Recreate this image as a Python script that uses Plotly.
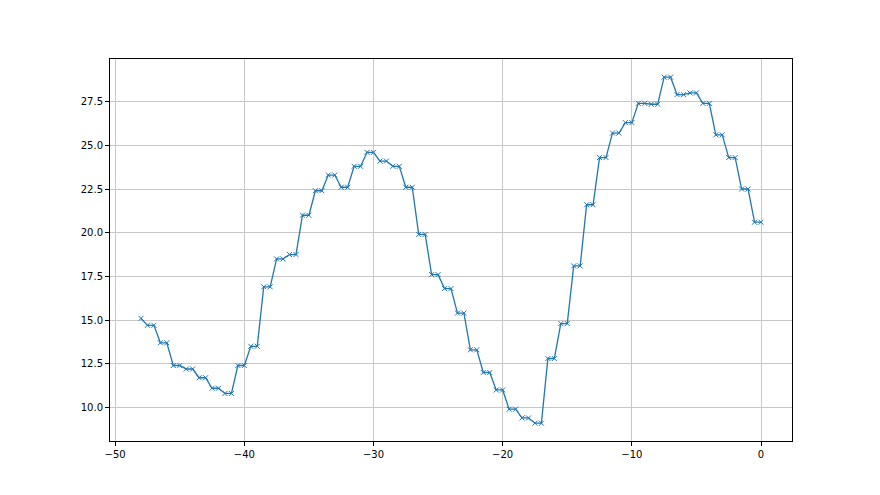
import plotly.graph_objects as go

# x positions: -48 then pairs at every half step up to 0
x_vals = [-48.0 + 0.5 * i for i in range(97)]
# one value for the first point, then one value per pair (x = k-0.5, k)
first_value = 15.1
pair_values = [14.7, 13.7, 12.4, 12.2, 11.7, 11.1, 10.8, 12.4, 13.5, 16.9,
               18.5, 18.75, 21.0, 22.4, 23.3, 22.6, 23.8, 24.6, 24.1, 23.8,
               22.6, 19.9, 17.6, 16.8, 15.4, 13.3, 12.0, 11.0, 9.9, 9.4,
               9.1, 12.8, 14.8, 18.1, 21.6, 24.3, 25.7, 26.3, 27.4, 27.35,
               28.9, 27.9, 28.0, 27.4, 25.6, 24.3, 22.5, 20.6]
y_vals = [first_value]
for v in pair_values:
    y_vals += [v, v]

x_ticks = [-50, -40, -30, -20, -10, 0]
y_ticks = [10.0, 12.5, 15.0, 17.5, 20.0, 22.5, 25.0, 27.5]

fig = go.Figure()
fig.add_trace(go.Scatter(
    x=x_vals, y=y_vals, mode="lines+markers",
    line=dict(color="#1f77b4", width=1.3),
    marker=dict(symbol="x-thin", size=5, line=dict(color="#1f77b4", width=1)),
    showlegend=False,
))

axis_common = dict(
    showline=True, linecolor="black", linewidth=1, mirror=True,
    showgrid=True, gridcolor="#c8c8c8", gridwidth=1,
    ticks="outside", ticklen=4, tickcolor="black", tickwidth=1,
    zeroline=False,
    tickfont=dict(family="DejaVu Sans", size=10, color="black"),
)
fig.update_xaxes(range=[-50.4, 2.4], tickvals=x_ticks,
                 ticktext=["\u221250", "\u221240", "\u221230", "\u221220", "\u221210", "0"],
                 **axis_common)
fig.update_yaxes(range=[8.08, 29.94], tickvals=y_ticks,
                 ticktext=[f"{v:.1f}" for v in y_ticks], **axis_common)

fig.update_layout(
    width=880, height=495,
    margin=dict(l=102, r=96, t=51, b=62),
    paper_bgcolor="white", plot_bgcolor="white",
)
fig.write_html("out.html")
